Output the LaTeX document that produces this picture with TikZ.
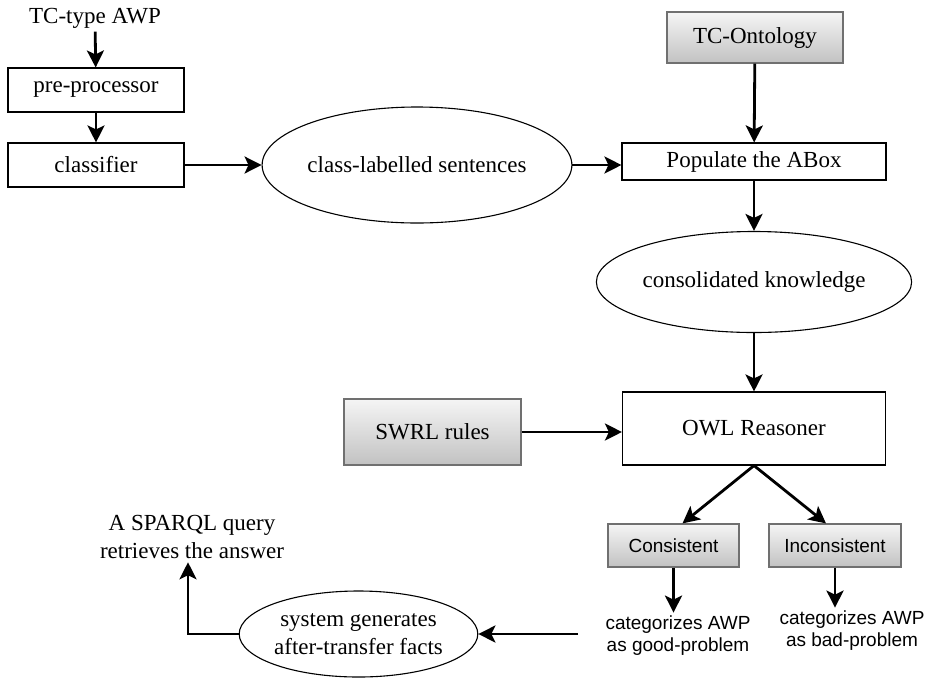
\documentclass[tikz,border=0pt]{standalone}
\usepackage{fontspec}
\setmainfont{Liberation Serif}
\newfontfamily\sansfnt{Liberation Sans}
\usepackage{xcolor}
\usepackage{tikz}
\usetikzlibrary{shapes.geometric,arrows.meta}
\definecolor{boxgray}{RGB}{112,112,112}

\begin{document}
\begin{tikzpicture}[x=1pt,y=-1pt,font=\fontsize{23}{28}\selectfont,
	plain/.style={draw,line width=1.1pt,inner sep=0pt},
	shaded/.style={draw=boxgray,line width=1.2pt,inner sep=0pt,top color=gray!8,bottom color=gray!48},
	oval/.style={draw,ellipse,line width=1.1pt,inner sep=0pt,align=center},
	flow/.style={line width=2.8pt,-{Stealth[length=17pt,width=17pt,inset=4pt]}},
	small/.style={font=\sansfnt\fontsize{19}{22}\selectfont,align=center}]
					\useasboundingbox (0,0) rectangle (928,678);
					
					\node (awp) at (95,18) {TC-type AWP};
					\node[plain,minimum width=176pt,minimum height=44pt] (pre) at (96,90) {pre-processor};
					\node[plain,minimum width=176pt,minimum height=44pt] (cls) at (96,165) {classifier};
					\node[oval,minimum width=262pt,minimum height=116pt] (csent) at (417,165) {class-labelled sentences};
					\node[shaded,minimum width=176pt,minimum height=51pt] (onto) at (755,37.5) {TC-Ontology};
					\node[plain,minimum width=264pt,minimum height=37pt] (pop) at (754,161.5) {Populate the ABox};
					\node[oval,minimum width=263pt,minimum height=101pt] (know) at (754,282) {consolidated knowledge};
					\node[plain,minimum width=263pt,minimum height=73pt] (owl) at (754,428.5) {OWL Reasoner};
					\node[shaded,minimum width=177pt,minimum height=66pt] (swrl) at (432.5,432) {SWRL rules};
					\node[shaded,small,minimum width=131pt,minimum height=43pt] (ok) at (673.5,545.5) {Consistent};
					\node[shaded,small,minimum width=132pt,minimum height=43pt] (bad) at (835,545.5) {Inconsistent};
					\node[small] (good) at (678,636) {categorizes AWP\\as good-problem};
					\node[small] (worse) at (852,631) {categorizes AWP\\as bad-problem};
					\node[oval,minimum width=237pt,minimum height=86pt] (sys) at (358.5,634) {system generates\\after-transfer facts};
					\node[align=center] (sparql) at (192,537) {A SPARQL query\\retrieves the answer};
					\coordinate (feed) at (578,634);
					
					\draw[flow] (awp) -- (pre);
					\draw[flow] (pre) -- (cls);
					\draw[flow] (cls.east) -- (csent.west);
					\draw[flow] (csent.east) -- (pop.west |- csent.east);
					\draw[flow] (onto) -- (pop);
					\draw[flow] (pop) -- (know);
					\draw[flow] (know) -- (owl);
					\draw[flow] (swrl.east) -- (owl.west |- swrl.east);
					\draw[flow] (owl.south) -- ([xshift=9pt]ok.north);
					\draw[flow] (owl.south) -- ([xshift=-9pt]bad.north);
					\draw[flow] (ok.south) -- (ok.south |- good.north);
					\draw[flow] (bad.south) -- (bad.south |- worse.north);
					\draw[flow] (feed) -- (sys.east);
					\draw[flow] (sys.west) -| ([xshift=-4pt]sparql.south);
				\end{tikzpicture}
\end{document}
